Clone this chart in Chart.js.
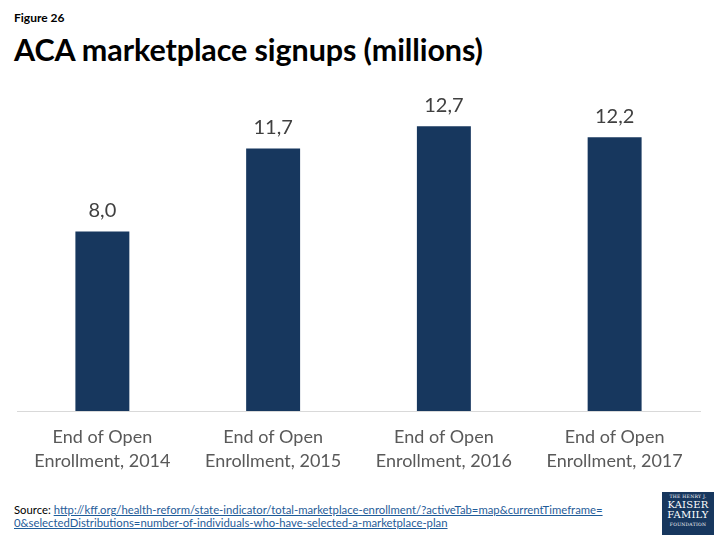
<!DOCTYPE html>
<html>
<head>
<meta charset="utf-8">
<script src="https://cdn.jsdelivr.net/npm/chart.js@4.4.1/dist/chart.umd.min.js"></script>
<style>
  html, body { margin: 0; padding: 0; background: #fff; }
  body { width: 720px; height: 540px; position: relative; overflow: hidden; font-family: Lato, "Open Sans", sans-serif; }
  #fig { position: absolute; left: 14px; top: 10px; font-size: 12px; font-weight: bold; color: #000; }
  #title { position: absolute; left: 14px; top: 31px; font-size: 30.5px; font-weight: bold; color: #000; letter-spacing: -0.1px; }
  #wrap { position: absolute; left: 0; top: 80px; width: 720px; height: 400px; }
  #source { position: absolute; left: 14px; top: 503px; font-size: 11.3px; line-height: 13px; color: #000; }
  #source a { color: #1f5c99; text-decoration: underline; }
  #logo { position: absolute; left: 662px; top: 492px; width: 52px; height: 43px; background: #17375e; color: #fff;
          font-family: "DejaVu Serif", serif; text-align: center; line-height: 1; }
  #logo .s { font-size: 4.5px; padding-top: 3px; letter-spacing: 0.3px; }
  #logo .b { font-size: 10px; letter-spacing: 0.2px; }
</style>
</head>
<body>
<div id="fig">Figure 26</div>
<div id="title">ACA marketplace signups (millions)</div>
<div id="wrap"><canvas id="signupsChart" width="720" height="400"></canvas></div>
<div id="source">Source: <a>http://kff.org/health-reform/state-indicator/total-marketplace-enrollment/?activeTab=map&amp;currentTimeframe=</a><br><a>0&amp;selectedDistributions=number-of-individuals-who-have-selected-a-marketplace-plan</a></div>
<div id="logo"><div class="s">THE HENRY J.</div><div class="b">KAISER</div><div class="b">FAMILY</div><div class="s">FOUNDATION</div></div>
<script>
'use strict';

// chart data
const categories = [
    ['End of Open', 'Enrollment, 2014'],
    ['End of Open', 'Enrollment, 2015'],
    ['End of Open', 'Enrollment, 2016'],
    ['End of Open', 'Enrollment, 2017']
];
const signups = [8.0, 11.7, 12.7, 12.2];

const BAR_COLOR = '#17375e';

// value labels above each bar, decimal comma like the original
const valueLabels = {
    id: 'valueLabels',
    afterDatasetsDraw(chart) {
        const ctx = chart.ctx;
        const meta = chart.getDatasetMeta(0);
        ctx.save();
        ctx.font = '20px Lato, "Open Sans", sans-serif';
        ctx.fillStyle = '#404040';
        ctx.textAlign = 'center';
        ctx.textBaseline = 'middle';
        meta.data.forEach((bar, i) => {
            const text = signups[i].toFixed(1).replace('.', ',');
            ctx.fillText(text, bar.x, bar.y - 21);
        });
        ctx.restore();
    }
};

const ctx = document.getElementById('signupsChart').getContext('2d');
new Chart(ctx, {
    type: 'bar',
    data: {
        labels: categories,
        datasets: [{
            data: signups,
            backgroundColor: BAR_COLOR,
            categoryPercentage: 1,
            barPercentage: 0.316
        }]
    },
    options: {
        responsive: false,
        animation: false,
        layout: { padding: { left: 17, right: 20, top: 17, bottom: 0 } },
        plugins: {
            legend: { display: false },
            tooltip: { enabled: false }
        },
        scales: {
            x: {
                grid: { display: false },
                border: { display: true, color: '#d9d9d9', width: 1 },
                ticks: {
                    color: '#595959',
                    font: { family: 'Lato, "Open Sans", sans-serif', size: 18, lineHeight: 1.33 },
                    padding: 6,
                    maxRotation: 0,
                    autoSkip: false
                },
                afterFit(scale) { scale.height = 69; }
            },
            y: {
                display: false,
                min: 0,
                max: 14
            }
        }
    },
    plugins: [valueLabels]
});
</script>
</body>
</html>
